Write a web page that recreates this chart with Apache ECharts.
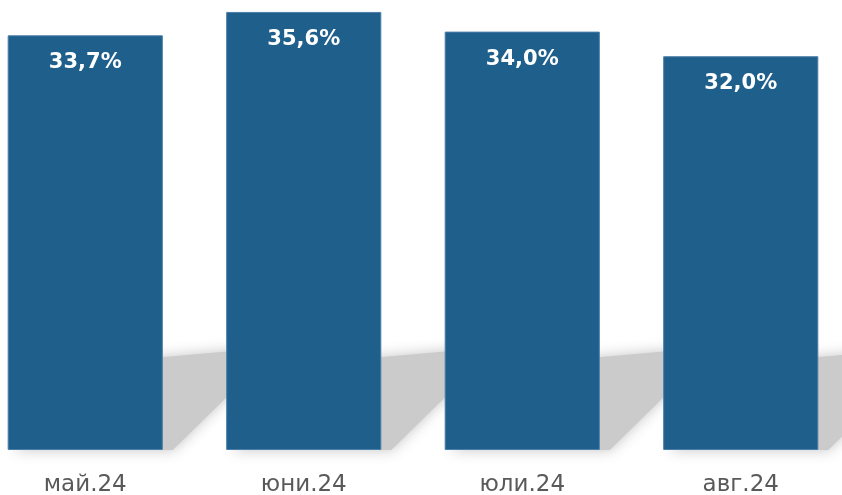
<!DOCTYPE html>
<html>
<head>
<meta charset="utf-8">
<script src="https://cdn.jsdelivr.net/npm/echarts@6/dist/echarts.min.js"></script>
<style>
html,body{margin:0;padding:0;background:#fff;overflow:hidden;width:842px;height:495px;}
#chart{position:absolute;left:-24px;top:0;width:874px;height:495px;}
</style>
</head>
<body>
<div id="chart"></div>
<script>
const categories = ['май.24', 'юни.24', 'юли.24', 'авг.24'];
const values = [33.7, 35.6, 34.0, 32.0];

const chart = echarts.init(document.getElementById('chart'));
const BAR_FRAC = 0.71;

chart.setOption({
  animation: false,
  backgroundColor: '#ffffff',
  grid: { left: 0, right: 0, top: 7, bottom: 45, containLabel: false, outerBoundsMode: 'none' },
  xAxis: {
    type: 'category',
    data: categories,
    axisLine: { show: false },
    axisTick: { show: false },
    axisLabel: {
      color: '#595959',
      fontFamily: 'DejaVu Sans',
      fontSize: 23,
      margin: 24
    }
  },
  yAxis: {
    type: 'value',
    min: 0,
    max: 36,
    show: false,
    splitLine: { show: false }
  },
  series: [
    {
      type: 'custom',
      z: 1,
      silent: true,
      data: values.map((v, i) => [i, v]),
      encode: { x: 0, y: 1 },
      renderItem: function (params, api) {
        const base = api.coord([api.value(0), 0]);
        const band = api.size([1, 0])[0];
        const bw = band * BAR_FRAC;
        const xL = base[0] - bw / 2;
        const xR = base[0] + bw / 2;
        const y = base[1];
        return {
          type: 'polygon',
          shape: {
            points: [[xL + 5, y], [xR + 10, y], [xR + 115, y - 103], [xL + 100, y - 88]]
          },
          style: {
            fill: '#cbcbcb',
            shadowBlur: 14,
            shadowColor: 'rgba(190,190,190,0.9)'
          }
        };
      }
    },
    {
      type: 'bar',
      z: 2,
      data: values,
      barWidth: (BAR_FRAC * 100) + '%',
      itemStyle: {
        color: '#1f5f8b',
        borderColor: '#4a7ea8',
        borderWidth: 1
      },
      label: {
        show: true,
        position: 'insideTop',
        distance: 17,
        color: '#ffffff',
        fontFamily: 'DejaVu Sans',
        fontWeight: 'bold',
        fontSize: 21,
        formatter: function (p) {
          return p.value.toFixed(1).replace('.', ',') + '%';
        }
      }
    }
  ]
});
</script>
</body>
</html>
